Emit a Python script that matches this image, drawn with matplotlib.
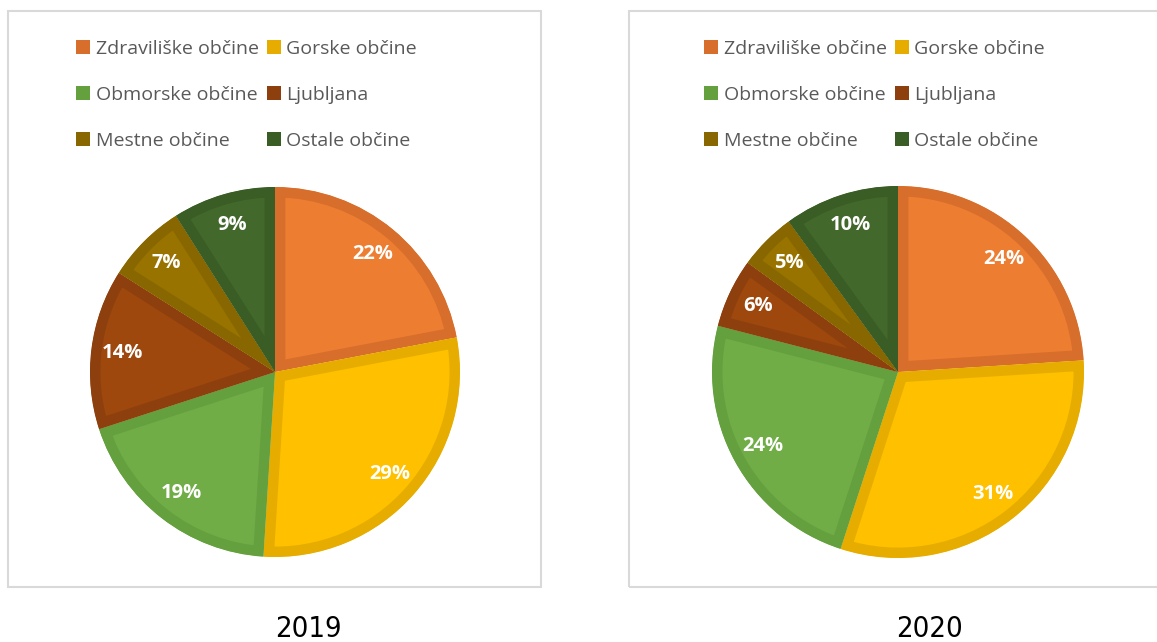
import matplotlib.pyplot as plt
from matplotlib.patches import Rectangle, Patch

# data
categories = ["Zdraviliške občine", "Gorske občine", "Obmorske občine",
              "Ljubljana", "Mestne občine", "Ostale občine"]
shares_2019 = [22, 29, 19, 14, 7, 9]
shares_2020 = [24, 31, 24, 6, 5, 10]
years = ["2019", "2020"]

fill_colors = ["#ED7D31", "#FFC000", "#70AD47", "#9E480E", "#997300", "#43682B"]
edge_colors = ["#D86E2B", "#E6AD00", "#64A03E", "#8D400D", "#896700", "#3A5C25"]

W, H = 1157, 642
fig = plt.figure(figsize=(W / 100, H / 100), dpi=100)


def fig_box(x0, y0, x1, y1):
    # pixel box (top-left origin) -> figure fraction rect
    return [x0 / W, 1 - y1 / H, (x1 - x0) / W, (y1 - y0) / H]


def draw_pie(values, cx, cy, r):
    ax = fig.add_axes(fig_box(cx - r, cy - r, cx + r, cy + r))
    wedges, texts, autotexts = ax.pie(
        values, colors=fill_colors, startangle=90, counterclock=False,
        autopct="%d%%", pctdistance=0.83,
        textprops=dict(color="white", fontsize=14.5, fontweight="bold",
                       family="Open Sans"))
    # darker inner border on each slice, clipped to the slice itself
    for w, ec in zip(wedges, edge_colors):
        w.set_edgecolor(ec)
        w.set_linewidth(15)
        w.set_clip_on(True)
        w.set_clip_path(w.get_path(), w.get_transform())
    ax.set_xlim(-1, 1)
    ax.set_ylim(-1, 1)
    ax.set_aspect("equal")
    return ax


# frames round each chart
for x0, x1 in [(8, 541), (629, 1170)]:
    fig.patches.append(Rectangle((x0 / W, 1 - 587 / H), (x1 - x0) / W, 576 / H,
                                 transform=fig.transFigure, fill=False,
                                 edgecolor="#D9D9D9", linewidth=1.5))

draw_pie(shares_2019, 275, 372, 185)
draw_pie(shares_2020, 898, 372, 186)

# legends (row-wise order in two columns)
order = [0, 2, 4, 1, 3, 5]
for lx in [76, 704]:
    handles = [Patch(facecolor=edge_colors[i], edgecolor="none") for i in order]
    labels = [categories[i] for i in order]
    fig.legend(handles, labels, ncol=2, loc="upper left",
               bbox_to_anchor=(lx / W, 1 - 40 / H), frameon=False,
               prop=dict(family="Open Sans", size=14),
               labelcolor="#595959", handlelength=0.72, handleheight=0.72,
               handletextpad=0.3, columnspacing=0.4, labelspacing=1.43,
               borderpad=0, borderaxespad=0)

for yr, x in zip(years, [308, 930]):
    fig.text(x / W, 1 - 629 / H, yr, ha="center", va="center", fontsize=21,
             family="DejaVu Sans", fontstretch="condensed", color="black")

fig.savefig("out.png", dpi=100)
